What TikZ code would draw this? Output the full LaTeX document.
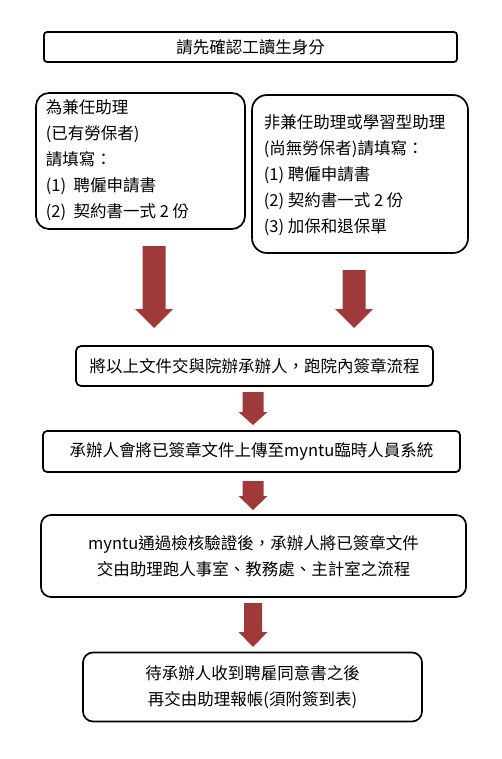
\documentclass[tikz,border=0pt]{standalone}
\usepackage{fontspec}
\setmainfont{Noto Sans CJK TC}
\definecolor{arrowred}{HTML}{A0393A}
\newcommand{\blockarrow}[6]{% cx, top, headstart, tip, shaft half, head half
  \fill[arrowred] (#1-#5,#2) -- (#1+#5,#2) -- (#1+#5,#3) -- (#1+#6,#3) -- (#1,#4) -- (#1-#6,#3) -- (#1-#5,#3) -- cycle;}
\begin{document}
\begin{tikzpicture}[x=1pt,y=-1pt,
  box/.style={draw=black, line width=1.7pt, fill=white, font=\fontsize{16.5}{26}\selectfont, inner sep=0pt, align=center}]
\useasboundingbox[fill=white] (0,0) rectangle (502,759);
% top box
\node[box, rounded corners=3pt, minimum width=413pt, minimum height=30pt] (top) at (250.5,47) {請先確認工讀生身分};
% left box
\draw[line width=1.7pt, rounded corners=13pt] (36,93) rectangle (245,229);
\node[box, draw=none, fill=none, align=left, anchor=west] (left) at (45,160) {為兼任助理\\(已有勞保者)\\請填寫：\\(1)\ \ 聘僱申請書\\(2)\ \ 契約書一式 2 份};
% right box
\draw[line width=1.7pt, rounded corners=15pt] (252,95) rectangle (468,253);
\node[box, draw=none, fill=none, align=left, anchor=west] (right) at (263,175.5) {非兼任助理或學習型助理\\(尚無勞保者)請填寫：\\(1) 聘僱申請書\\(2) 契約書一式 2 份\\(3) 加保和退保單};
% arrows from top boxes
\blockarrow{154}{246}{309}{328}{11.5}{19}
\blockarrow{354}{270}{309}{328}{11.5}{19}
% box 4
\node[box, rounded corners=5pt, minimum width=357pt, minimum height=40pt] (b4) at (254.5,366) {將以上文件交與院辦承辦人，跑院內簽章流程};
\blockarrow{253}{392}{412}{425}{10.5}{14.5}
% box 5
\node[box, rounded corners=4pt, minimum width=417pt, minimum height=41pt] (b5) at (251.5,451.5) {承辦人會將已簽章文件上傳至myntu臨時人員系統};
\blockarrow{253}{481}{496}{510}{10.5}{14.5}
% box 6
\node[box, rounded corners=10pt, minimum width=425pt, minimum height=82pt] (b6) at (253.5,556) {myntu通過檢核驗證後，承辦人將已簽章文件\\交由助理跑人事室、教務處、主計室之流程};
\blockarrow{253}{603}{632}{647}{9}{14.5}
% box 7
\node[box, rounded corners=10pt, minimum width=339pt, minimum height=69pt] (b7) at (252.5,687) {待承辦人收到聘雇同意書之後\\再交由助理報帳(須附簽到表)};
\end{tikzpicture}
\end{document}
